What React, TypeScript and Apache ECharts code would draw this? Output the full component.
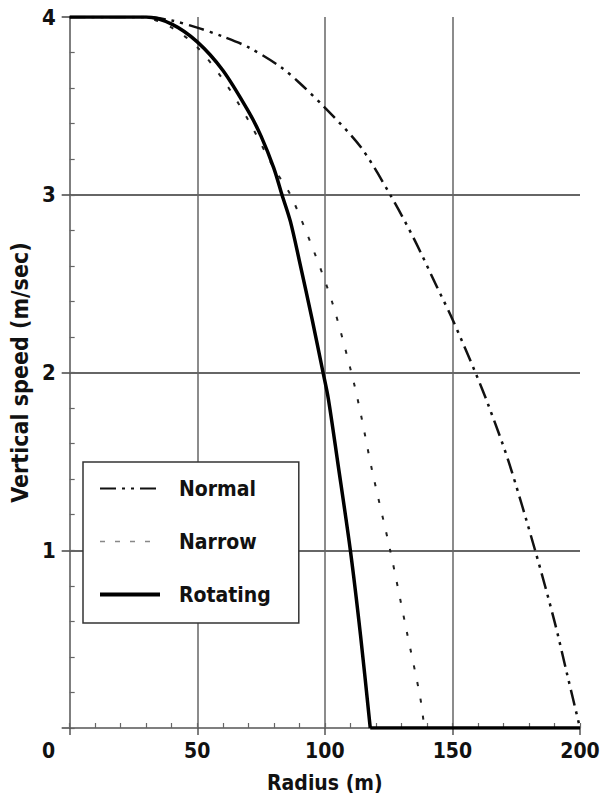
import React, { useEffect, useRef } from "react";
import * as echarts from "echarts";

const xTicks = [0, 50, 100, 150, 200];

const normalRadius = [0, 30, 40, 50, 60, 70, 82.6, 90, 100, 114, 125.6, 135, 144, 150, 159, 164, 172, 182.4, 190, 195, 200];
const normalSpeed = [4, 4, 3.98, 3.94, 3.89, 3.83, 3.72, 3.63, 3.49, 3.27, 3.0, 2.75, 2.48, 2.3, 2.0, 1.82, 1.5, 1.0, 0.6, 0.3, 0];

const narrowRadius = [0, 28, 40, 50, 60, 70, 80, 86.5, 95.5, 103, 110.4, 113.9, 118.5, 125.6, 132, 137.4, 139];
const narrowSpeed = [4, 4, 3.94, 3.83, 3.65, 3.42, 3.15, 3.0, 2.69, 2.39, 2.0, 1.78, 1.45, 1.0, 0.55, 0.17, 0];

const rotatingRadius = [0, 30, 40, 50, 60, 70, 75, 80, 83.2, 86.5, 90, 95, 99.3, 101.4, 105, 110, 114, 117.8];
const rotatingSpeed = [4, 4, 3.96, 3.86, 3.7, 3.47, 3.33, 3.15, 3.0, 2.85, 2.63, 2.3, 2.0, 1.85, 1.5, 1.0, 0.52, 0];
const rotatingFloorRadius = [117.8, 200];
const rotatingFloorSpeed = [0, 0];

const FONT = '"DejaVu Sans Condensed", "DejaVu Sans", sans-serif';

function zip(a: number[], b: number[]) {
  return a.map((v, i) => [v, b[i]]);
}

export default function App() {
  const ref = useRef<HTMLDivElement>(null);
  useEffect(() => {
    if (!ref.current) return;
    const chart = echarts.init(ref.current, null, { renderer: "svg" });
    const rotatingStyle = { color: "#000", width: 3.5 };
    chart.setOption({
      animation: false,
      backgroundColor: "#ffffff",
      grid: { left: 69, right: 26, top: 17, bottom: 77 },
      legend: {
        orient: "vertical",
        left: 83,
        top: 462,
        padding: [16, 28, 18, 15],
        itemWidth: 60,
        itemHeight: 14,
        itemGap: 32,
        backgroundColor: "#ffffff",
        borderColor: "#333",
        borderWidth: 1.5,
        itemStyle: { opacity: 0 },
        textStyle: { fontFamily: FONT, fontWeight: "bold", fontSize: 21, lineHeight: 20, color: "#111", padding: [0, 0, 0, 14] },
        data: [
          { name: "Normal", itemStyle: { opacity: 0 } },
          { name: "Narrow", itemStyle: { opacity: 0 }, lineStyle: { color: "#888", width: 1.5, type: [5, 10] } },
          { name: "Rotating", itemStyle: { opacity: 0 }, lineStyle: { width: 4 } },
        ],
      },
      xAxis: [
        {
          type: "value",
          min: 0,
          max: 200,
          interval: 50,
          name: "Radius (m)",
          nameLocation: "middle",
          nameGap: 44,
          nameTextStyle: { fontFamily: FONT, fontWeight: "bold", fontSize: 21, color: "#111" },
          axisLine: { show: true, onZero: false, lineStyle: { color: "#555", width: 1.5 } },
          axisTick: { show: true, inside: false, length: 7, lineStyle: { color: "#555", width: 1.5 } },
          axisLabel: {
            margin: 12,
            fontFamily: FONT,
            fontWeight: "bold",
            fontSize: 21,
            color: "#111",
            formatter: (v: number) => (v === 0 ? "{zero|0}" : String(v)),
            rich: { zero: { fontFamily: FONT, fontWeight: "bold", fontSize: 21, color: "#111", padding: [0, 42, 0, 0] } },
            customValues: xTicks,
          },
          splitLine: { show: true, showMinLine: false, showMaxLine: false, lineStyle: { color: "#666", width: 1.5 } },
        },
        {
          type: "value",
          min: 0,
          max: 200,
          interval: 10,
          position: "bottom",
          axisLine: { show: false },
          axisTick: { show: true, inside: true, length: 5, lineStyle: { color: "#666", width: 1.2 } },
          axisLabel: { show: false },
          splitLine: { show: false },
        },
      ],
      yAxis: [
        {
          type: "value",
          min: 0,
          max: 4,
          interval: 1,
          name: "Vertical speed (m/sec)",
          nameLocation: "middle",
          nameGap: 34,
          nameTextStyle: { fontFamily: FONT, fontWeight: "bold", fontSize: 23, color: "#111" },
          axisLine: { show: true, onZero: false, lineStyle: { color: "#555", width: 1.5 } },
          axisTick: { show: true, inside: false, length: 8, lineStyle: { color: "#444", width: 1.5 } },
          axisLabel: {
            margin: 14,
            fontFamily: FONT,
            fontWeight: "bold",
            fontSize: 22,
            color: "#111",
            formatter: (v: number) => (v === 0 ? "" : String(v)),
          },
          splitLine: { show: true, showMinLine: false, showMaxLine: false, lineStyle: { color: "#333", width: 1.5 } },
        },
        {
          type: "value",
          min: 0,
          max: 4,
          interval: 0.2,
          position: "left",
          axisLine: { show: false },
          axisTick: { show: true, inside: true, length: 5, lineStyle: { color: "#666", width: 1.2 } },
          axisLabel: { show: false },
          splitLine: { show: false },
        },
      ],
      series: [
        {
          name: "Normal",
          type: "line",
          symbol: "none",
          smooth: 0.3,
          data: zip(normalRadius, normalSpeed),
          lineStyle: { color: "#111", width: 2.5, type: [16, 6, 3, 6, 3, 6] },
          itemStyle: { color: "#111" },
          z: 3,
        },
        {
          name: "Narrow",
          type: "line",
          symbol: "none",
          smooth: 0.3,
          data: zip(narrowRadius, narrowSpeed),
          lineStyle: { color: "#222", width: 2, type: [4, 13] },
          itemStyle: { color: "#222" },
          z: 3,
        },
        {
          name: "Rotating",
          type: "line",
          symbol: "none",
          smooth: 0.3,
          data: zip(rotatingRadius, rotatingSpeed),
          lineStyle: rotatingStyle,
          itemStyle: { color: "#000" },
          z: 4,
        },
        {
          name: "Rotating",
          type: "line",
          symbol: "none",
          data: zip(rotatingFloorRadius, rotatingFloorSpeed),
          lineStyle: rotatingStyle,
          itemStyle: { color: "#000" },
          z: 4,
        },
      ],
    });
    return () => chart.dispose();
  }, []);
  return <div ref={ref} style={{ width: 606, height: 805, position: "absolute", left: 0, top: 0 }} />;
}
